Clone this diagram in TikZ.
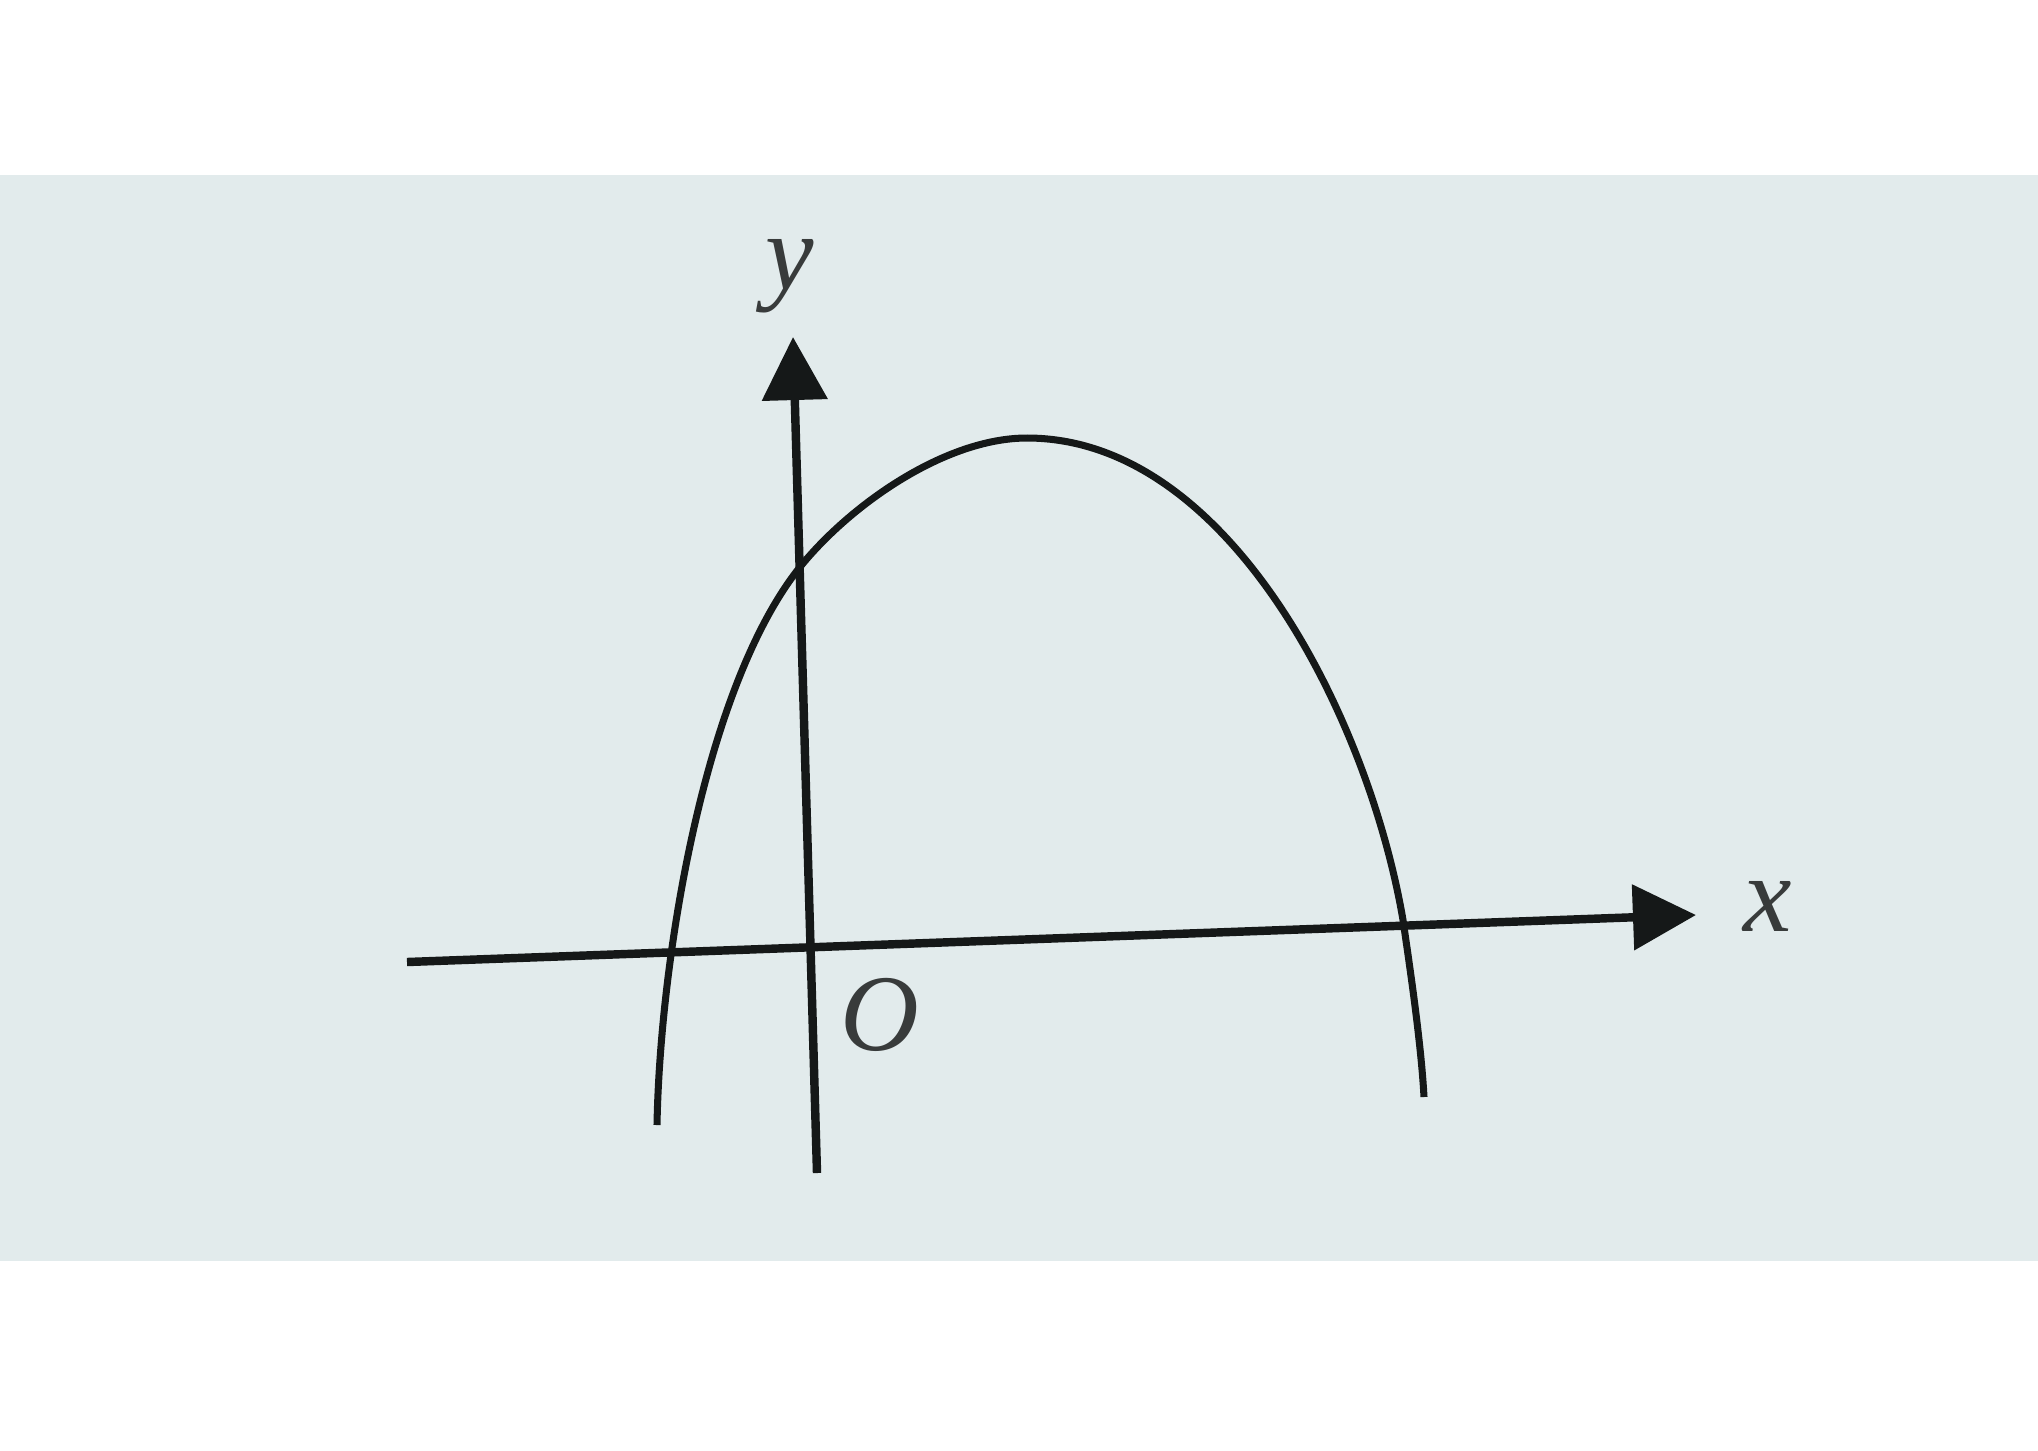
\documentclass[tikz,border=0pt]{standalone}
\usepackage{fontspec}
\setmainfont{Liberation Serif}
\usepackage{xcolor}
\usetikzlibrary{positioning, arrows.meta}
\definecolor{paper}{HTML}{E2EBEC}
\definecolor{ink}{HTML}{151818}
\tikzset{
  axis/.style={draw=ink, line width=2.4pt, -{Triangle[length=6.3mm, width=6.4mm]}},
  graph/.style={draw=ink, line width=2pt},
  axislabel/.style={font=\fontsize{31}{31}\selectfont\itshape, text=ink!85, inner sep=0pt},
}
\begin{document}
\begin{tikzpicture}[x=0.01cm, y=-0.01cm]
  \useasboundingbox (0,0) rectangle (2038,1450);
  % Paper band
  \fill[paper] (0,175) rectangle (2038,1261);

  % Axes
  \coordinate (xstart) at (407,962);
  \coordinate (xend) at (1696,915);
  \coordinate (ystart) at (817,1173);
  \coordinate (yend) at (793,337);
  \draw[axis] (xstart) -- (xend);
  \draw[axis] (ystart) -- (yend);

  % Labels
  \node[axislabel] (xlabel) at (1768,906) {x};
  \node[axislabel] (ylabel) at (790,276) {y};
  \node[axislabel] (origin) at (880,1015) {O};

  % Parabola
  \coordinate (left) at (657,1125);
  \coordinate (cut) at (800,567);
  \coordinate (top) at (1027,438);
  \coordinate (root) at (1403,920);
  \coordinate (right) at (1424,1097);
  \draw[graph] (left) .. controls (660,960) and (704,687) .. (cut)
    .. controls (850,505) and (945,438) .. (top)
    .. controls (1230,438) and (1369,720) .. (root)
    .. controls (1408,955) and (1421,1040) .. (right);
\end{tikzpicture}
\end{document}
